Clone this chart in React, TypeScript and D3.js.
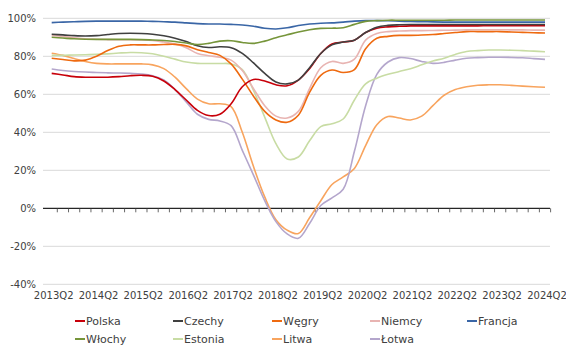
import React from "react";
import * as d3 from "d3";

// Quarters 2013Q2 .. 2024Q2
const quarters: string[] = [];
for (let y = 2013; y <= 2024; y++) {
  for (let q = 1; q <= 4; q++) {
    if (y === 2013 && q < 2) continue;
    if (y === 2024 && q > 2) continue;
    quarters.push(`${y}Q${q}`);
  }
}

const tickLabels = ["2013Q2", "2014Q2", "2015Q2", "2016Q2", "2017Q2", "2018Q2", "2019Q2", "2020Q2", "2021Q2", "2022Q2", "2023Q2", "2024Q2"];
const yTicks = [-40, -20, 0, 20, 40, 60, 80, 100];

const polska = [71.0, 70.2, 69.3, 69.0, 69.0, 69.0, 69.3, 69.8, 70.0, 69.5, 67.0, 62.5, 57.0, 51.5, 48.8, 49.5, 55.0, 64.0, 67.8, 67.0, 65.0, 64.5, 67.5, 73.5, 81.5, 86.5, 87.5, 88.5, 92.5, 94.8, 95.5, 95.8, 96.0, 96.0, 96.0, 96.0, 96.0, 96.0, 96.0, 96.1, 96.1, 96.1, 96.1, 96.1, 96.1];
const czechy = [91.6, 91.3, 90.9, 90.7, 90.9, 91.5, 92.0, 92.1, 92.0, 91.6, 90.8, 89.5, 87.8, 85.5, 84.6, 85.0, 84.5, 81.5, 76.5, 71.0, 66.5, 65.5, 67.5, 74.0, 81.5, 86.0, 87.5, 88.5, 92.5, 95.3, 96.3, 96.6, 96.7, 96.7, 96.7, 96.7, 96.7, 96.7, 96.7, 96.7, 96.7, 96.7, 96.7, 96.7, 96.7];
const wegry = [79.0, 78.3, 77.6, 78.0, 80.0, 83.0, 85.3, 86.0, 86.0, 86.0, 86.2, 86.3, 85.5, 83.5, 82.0, 80.5, 76.0, 68.0, 59.0, 51.0, 46.5, 45.3, 49.0, 61.0, 70.0, 72.8, 71.5, 73.0, 84.0, 89.5, 90.5, 91.0, 91.0, 91.2, 91.5, 92.0, 92.5, 93.0, 93.0, 93.0, 93.0, 92.8, 92.6, 92.4, 92.3];
const niemcy = [91.0, 90.5, 89.8, 89.2, 89.0, 88.8, 88.7, 88.7, 88.6, 88.3, 87.5, 86.5, 84.5, 81.5, 80.3, 79.5, 78.0, 72.5, 63.0, 54.0, 48.5, 47.5, 51.0, 63.0, 74.0, 77.3, 76.3, 78.5, 88.5, 92.0, 93.0, 93.3, 93.5, 93.5, 93.6, 93.7, 93.8, 93.9, 94.0, 94.0, 94.0, 93.9, 93.9, 93.8, 93.8];
const francja = [97.7, 98.0, 98.2, 98.4, 98.5, 98.5, 98.5, 98.5, 98.5, 98.4, 98.2, 98.0, 97.6, 97.2, 97.0, 97.0, 96.8, 96.5, 95.8, 94.8, 94.4, 95.0, 96.2, 97.0, 97.4, 97.6, 98.0, 98.5, 98.8, 98.8, 98.7, 98.5, 98.3, 98.2, 98.1, 98.0, 98.0, 98.0, 98.0, 98.0, 98.0, 98.0, 98.0, 98.0, 98.0];
const wlochy = [90.0, 89.6, 89.2, 89.0, 88.9, 88.9, 88.9, 88.9, 88.8, 88.6, 88.3, 87.8, 87.0, 86.2, 86.8, 88.0, 88.2, 87.3, 86.8, 88.0, 89.8, 91.3, 92.8, 94.0, 94.7, 94.8, 95.0, 96.8, 98.4, 98.8, 99.0, 99.0, 99.0, 99.0, 99.0, 99.0, 99.1, 99.1, 99.1, 99.1, 99.1, 99.1, 99.1, 99.1, 99.1];
const estonia = [80.5, 80.5, 80.7, 80.8, 81.0, 81.3, 81.7, 82.0, 81.9, 81.3, 80.0, 78.5, 77.0, 76.3, 76.2, 76.2, 76.0, 73.0, 62.0, 48.0, 34.0, 26.0, 27.0, 35.5, 43.0, 44.5, 47.0, 57.0, 65.5, 68.5, 70.5, 72.0, 73.5, 75.5, 77.5, 79.0, 81.0, 82.5, 83.0, 83.3, 83.3, 83.2, 83.0, 82.7, 82.4];
const litwa = [81.6, 80.5, 78.8, 77.3, 76.3, 76.0, 76.0, 76.0, 76.0, 75.5, 73.5, 69.0, 63.0, 57.5, 55.0, 55.0, 53.5, 40.0, 22.0, 6.0, -6.0, -11.5, -13.3, -5.0, 4.0, 12.5, 16.5, 21.0, 33.0, 44.0, 48.3, 47.5, 46.5, 48.5, 54.0, 59.5, 62.5, 64.0, 64.8, 65.0, 65.0, 64.7, 64.3, 64.0, 63.7];
const lotwa = [73.3, 72.5, 72.0, 71.7, 71.5, 71.3, 71.2, 71.0, 70.7, 69.8, 67.5, 62.5, 56.0, 49.5, 46.8, 46.0, 43.5, 30.5, 17.5, 4.0, -7.0, -13.5, -15.8, -8.0, 1.5, 5.5, 10.0, 30.0, 54.0, 70.5, 77.0, 79.3, 78.8, 77.3, 76.3, 76.8, 78.0, 79.0, 79.3, 79.5, 79.5, 79.4, 79.2, 78.8, 78.4];

const seriesNames = ["Polska", "Czechy", "Węgry", "Niemcy", "Francja", "Włochy", "Estonia", "Litwa", "Łotwa"];
const seriesValues = [polska, czechy, wegry, niemcy, francja, wlochy, estonia, litwa, lotwa];
const seriesColors = ["#c8000a", "#404040", "#ee6a10", "#e8b4b2", "#3a66a6", "#76953a", "#c8dca4", "#f8a45e", "#b4a6cc"];

// draw order: back to front
const drawOrder = [7, 8, 6, 3, 2, 0, 1, 4, 5];

const W = 566;
const H = 347;
const plotLeft = 43;
const plotRight = 550;
const font = "'DejaVu Sans', sans-serif";
const textColor = "#404040";

export default function App() {
  const x = d3.scalePoint<string>().domain(quarters).range([51.7, 545]);
  const y = d3.scaleLinear().domain([-40, 100]).range([284.3, 18.3]);
  const step = x.step();

  const line = d3
    .line<number>()
    .x((_, i) => x(quarters[i]) as number)
    .y((d) => y(d))
    .curve(d3.curveCatmullRom.alpha(0.5));

  const legendCols = [75, 173, 272, 370, 467];
  const legendRows = [321, 339];

  return (
    <svg
      width={W}
      height={H}
      style={{ position: "absolute", left: 0, top: 0, background: "#fff" }}
      fontFamily={font}
    >
      {/* gridlines */}
      {yTicks.filter((t) => t !== 0).map((t) => (
        <line key={t} x1={plotLeft} x2={plotRight} y1={y(t)} y2={y(t)} stroke="#d9d9d9" strokeWidth={1} />
      ))}
      {/* y labels */}
      {yTicks.map((t) => (
        <text key={t} x={36} y={y(t)} dy="0.36em" textAnchor="end" fontSize={10} fill={textColor}>
          {`${t}%`}
        </text>
      ))}
      {/* zero axis with category ticks */}
      <line x1={plotLeft} x2={plotRight} y1={y(0)} y2={y(0)} stroke="#262626" strokeWidth={1.2} />
      {quarters.map((q) => {
        const tx = (x(q) as number) + step / 2;
        return <line key={q} x1={tx} x2={tx} y1={y(0)} y2={y(0) + 4} stroke="#404040" strokeWidth={0.8} />;
      })}
      {/* x labels */}
      {tickLabels.map((q) => (
        <text key={q} x={(x(q) as number) + 2} y={299} textAnchor="middle" fontSize={10} fill={textColor}>
          {q}
        </text>
      ))}
      {/* series */}
      {drawOrder.map((k) => (
        <path
          key={seriesNames[k]}
          d={line(seriesValues[k]) as string}
          fill="none"
          stroke={seriesColors[k]}
          strokeWidth={1.6}
        />
      ))}
      {/* legend */}
      {seriesNames.map((name, k) => {
        const row = k < 5 ? 0 : 1;
        const col = k < 5 ? k : k - 5;
        const lx = legendCols[col];
        const ly = legendRows[row];
        return (
          <g key={name}>
            <line x1={lx} x2={lx + 10} y1={ly} y2={ly} stroke={seriesColors[k]} strokeWidth={2} />
            <text x={lx + 11} y={ly} dy="0.36em" fontSize={11} fill={textColor}>
              {name}
            </text>
          </g>
        );
      })}
    </svg>
  );
}
